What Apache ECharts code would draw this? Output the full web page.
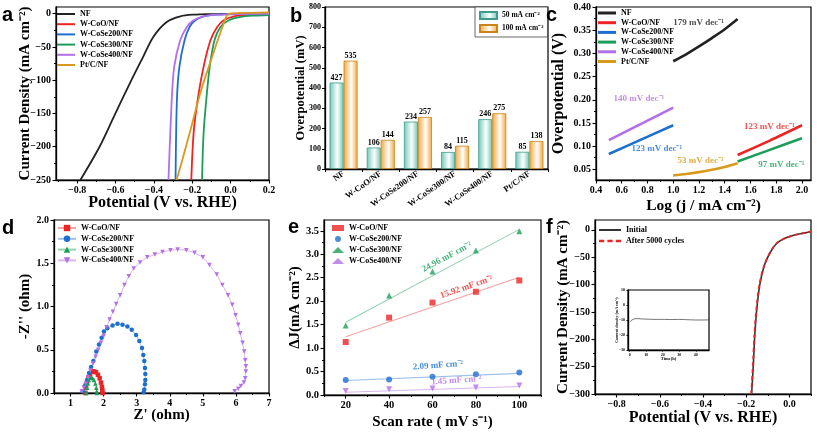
<!DOCTYPE html>
<html><head><meta charset="utf-8">
<script src="https://cdn.jsdelivr.net/npm/echarts@6/dist/echarts.min.js"></script>
<style>html,body{margin:0;padding:0;background:#fff}#c{width:817px;height:434px}</style>
</head><body><div id="c"></div>
<script>
const SERIF='"Liberation Serif","Times New Roman",serif';
// ---------- Panel a : LSV ----------
const aXTicks=[-0.8,-0.6,-0.4,-0.2,0,0.2];
const aXMinor=[-0.9,-0.7,-0.5,-0.3,-0.1,0.1];
const aYTicks=[-250,-200,-150,-100,-50,0];
const aYMinor=[-225,-175,-125,-75,-25];
const aNF=[[-0.783,-250],[-0.683,-200],[-0.604,-152],[-0.517,-100],[-0.456,-65],[-0.403,-35],[-0.333,-12.6],[-0.262,-4],[-0.193,-1.5],[-0.1,-0.6],[0.0,-0.3],[0.2,0]];
const aCoO=[[-0.205,-250],[-0.193,-180],[-0.172,-130],[-0.141,-80],[-0.105,-40],[-0.07,-20],[-0.036,-10],[0.017,-4],[0.1,-2],[0.2,-1.2]];
const aSe200=[[-0.287,-250],[-0.280,-130],[-0.267,-80],[-0.240,-40],[-0.214,-20],[-0.184,-10],[-0.141,-4],[-0.07,-1.5],[0.05,-0.6],[0.2,-0.3]];
const aSe300=[[-0.149,-250],[-0.141,-180],[-0.127,-130],[-0.109,-80],[-0.084,-40],[-0.053,-20],[-0.009,-10],[0.052,-5],[0.12,-3],[0.2,-2]];
const aSe400=[[-0.324,-250],[-0.307,-130],[-0.294,-80],[-0.263,-40],[-0.228,-20],[-0.193,-10],[-0.141,-4],[-0.07,-1.5],[0.05,-0.6],[0.2,-0.3]];
const aPtC=[[-0.282,-250],[-0.25,-218],[-0.2,-165],[-0.157,-118],[-0.1,-68],[-0.06,-34],[-0.035,-14],[-0.02,-3],[0.0,0.3],[0.1,1.2],[0.2,2]];
// ---------- Panel b : overpotential bars ----------
const bCats=['NF','W-CoO/NF','W-CoSe200/NF','W-CoSe300/NF','W-CoSe400/NF','Pt/C/NF'];
const b50=[427,106,234,84,246,85];
const b100=[535,144,257,115,275,138];
// ---------- Panel c : Tafel ----------
const cXTicks=[0.4,0.6,0.8,1.0,1.2,1.4,1.6,1.8,2.0];
const cXMinor=[0.5,0.7,0.9,1.1,1.3,1.5,1.7,1.9];
const cYTicks=[0.05,0.10,0.15,0.20,0.25,0.30,0.35,0.40];
const cYMinor=[0.075,0.125,0.175,0.225,0.275,0.325,0.375];
const cNF=[[1.0,0.283],[1.1,0.298],[1.2,0.315],[1.3,0.333],[1.4,0.352],[1.5,0.374]];
const cCoO=[[1.5,0.081],[1.75,0.112],[2.0,0.145]];
const cSe200=[[0.5,0.083],[0.75,0.114],[1.0,0.145]];
const cSe300=[[1.5,0.067],[1.75,0.092],[2.0,0.117]];
const cSe400=[[0.5,0.113],[0.75,0.148],[1.0,0.183]];
const cPtC=[[1.0,0.037],[1.1,0.040],[1.2,0.044],[1.3,0.049],[1.4,0.055],[1.5,0.063]];
const cSlopes=['179 mV dec⁻¹','123 mV dec⁻¹','123 mV dec⁻¹','97 mV dec⁻¹','140 mV dec⁻¹','53 mV dec⁻¹'];
// ---------- Panel d : Nyquist ----------
const dXTicks=[1,2,3,4,5,6,7];
const dXMinor=[0.5,1.5,2.5,3.5,4.5,5.5,6.5];
const dYTicks=[0,0.5,1.0,1.5,2.0];
const dYMinor=[0.25,0.75,1.25,1.75];
const dCoO=[[1.45,0.0],[1.47,0.06],[1.50,0.12],[1.54,0.18],[1.59,0.22],[1.65,0.245],[1.71,0.25],[1.77,0.24],[1.83,0.21],[1.88,0.17],[1.92,0.12],[1.95,0.07],[1.96,0.03],[1.97,0.0]];
const dSe200=[[1.37,0.02],[1.44,0.09],[1.50,0.15],[1.56,0.23],[1.62,0.30],[1.69,0.37],[1.78,0.48],[1.86,0.56],[1.94,0.64],[2.01,0.71],[2.11,0.75],[2.27,0.78],[2.42,0.80],[2.57,0.79],[2.72,0.77],[2.85,0.73],[2.98,0.67],[3.08,0.60],[3.16,0.52],[3.20,0.44],[3.23,0.37],[3.25,0.29],[3.26,0.22],[3.26,0.15],[3.25,0.10],[3.23,0.04],[3.21,0.01]];
const dSe300=[[1.48,0.0],[1.50,0.06],[1.52,0.11],[1.55,0.15],[1.59,0.175],[1.63,0.18],[1.67,0.17],[1.71,0.15],[1.75,0.11],[1.78,0.06],[1.79,0.02],[1.80,0.0]];
const dSe400=[[1.34,0.02],[1.40,0.06],[1.46,0.11],[1.53,0.18],[1.60,0.26],[1.68,0.34],[1.76,0.42],[1.84,0.50],[1.92,0.58],[2.00,0.66],[2.09,0.76],[2.18,0.85],[2.28,0.94],[2.38,1.03],[2.50,1.13],[2.63,1.25],[2.76,1.35],[2.91,1.44],[3.10,1.51],[3.32,1.57],[3.55,1.60],[3.78,1.63],[4.02,1.65],[4.24,1.66],[4.50,1.65],[4.75,1.62],[5.00,1.57],[5.20,1.48],[5.42,1.37],[5.59,1.25],[5.76,1.13],[5.89,1.02],[5.99,0.90],[6.07,0.79],[6.13,0.69],[6.20,0.58],[6.25,0.48],[6.28,0.38],[6.30,0.31],[6.30,0.25],[6.28,0.17],[6.24,0.12],[6.15,0.08],[6.07,0.05],[5.96,0.02]];
// ---------- Panel e : double-layer capacitance ----------
const eXTicks=[20,40,60,80,100];
const eXMinor=[10,30,50,70,90,110];
const eYTicks=[0,0.5,1.0,1.5,2.0,2.5,3.0,3.5];
const eYMinor=[0.25,0.75,1.25,1.75,2.25,2.75,3.25];
const eScan=[20,40,60,80,100];
const eCoO=[1.13,1.65,1.97,2.20,2.44];
const eSe200=[0.32,0.33,0.39,0.44,0.48];
const eSe300=[1.48,2.12,2.63,3.08,3.49];
const eSe400=[0.085,0.12,0.14,0.16,0.20];
const eFitX=[20,100];
const eFitCoO=[1.24,2.51];
const eFitSe200=[0.31,0.46];
const eFitSe300=[1.55,3.53];
const eFitSe400=[0.06,0.18];
const eCdl=['15.92 mF cm⁻²','2.09 mF cm⁻²','24.96 mF cm⁻²','1.45 mF cm⁻²'];
// ---------- Panel f : stability ----------
const fXTicks=[-0.8,-0.6,-0.4,-0.2,0.0];
const fXMinor=[-0.9,-0.7,-0.5,-0.3,-0.1,0.1];
const fYTicks=[-300,-250,-200,-150,-100,-50,0];
const fYMinor=[-275,-225,-175,-125,-75,-25];
const fInit=[[-0.175,-300],[-0.167,-247],[-0.161,-198],[-0.152,-149],[-0.137,-100],[-0.115,-64],[-0.087,-40],[-0.057,-24],[-0.018,-15],[0.02,-10],[0.066,-6],[0.1,-3]];
const fAfter=[[-0.177,-300],[-0.169,-247],[-0.163,-198],[-0.154,-149],[-0.139,-100],[-0.116,-64],[-0.088,-40],[-0.058,-24],[-0.019,-15],[0.02,-10],[0.066,-6],[0.1,-3]];
const gXTicks=[0,10,20,30,40];
const gYTicks=[-30,-20,-10,0,10];
const gTime=[[0,-11.5],[0.5,-11],[1,-10.3],[2,-9.6],[3,-9.2],[5,-9.1],[8,-9.3],[12,-9.5],[16,-9.6],[20,-9.6],[25,-9.7],[30,-9.6],[35,-9.8],[40,-10],[44,-10],[48,-9.9]];

const C={k:'#222222',r:'#ec2424',b:'#1d6fcf',g:'#1c9e58',p:'#b36fe6',o:'#d89a1c'};
const L={r:'#f3a3a0',b:'#9cc0ea',g:'#93d4b2',p:'#d9b5f2'};
const neg=s=>s.replace('-','−');
const z=v=>Math.abs(v)<1e-9?0:v;
const f0=v=>neg(String(Math.round(z(v))));
const f1=v=>neg(z(v).toFixed(1));
const f2=v=>neg(z(v).toFixed(2));
const base={fontFamily:SERIF,fontWeight:'bold',color:'#000'};

const grids=[
 {left:56,top:7,width:213,height:173},
 {left:325,top:7,width:223,height:162},
 {left:596,top:7,width:215,height:173},
 {left:54,top:220,width:215,height:173},
 {left:324,top:220,width:217,height:175},
 {left:595,top:220,width:216,height:174},
 {left:628,top:290,width:81,height:60,backgroundColor:'#fff'}
].map(g=>Object.assign({show:true,borderColor:'#000',borderWidth:1.2,containLabel:false},g));

const xAxes=[],yAxes=[];
function axis(list,grid,pos,min,max,majors,minors,fmt,lsize,name,gap,nsize,tl){
  const idx=list.length; tl=tl||3.5;
  list.push({type:'value',gridIndex:grid,position:pos,min,max,nameMoveOverlap:false,
    axisLine:{show:true,onZero:false,lineStyle:{color:'#000',width:1.3}},
    axisTick:{show:true,inside:false,length:tl,customValues:majors,lineStyle:{color:'#000',width:1.1}},
    axisLabel:Object.assign({customValues:majors,formatter:fmt,fontSize:lsize,margin:tl+1.5},base),
    splitLine:{show:false},
    name,nameLocation:'middle',nameGap:gap,nameTextStyle:Object.assign({fontSize:nsize},base)});
  if(minors) list.push({type:'value',gridIndex:grid,position:pos,min,max,
    axisLine:{show:false,onZero:false},axisLabel:{show:false},splitLine:{show:false},
    axisTick:{show:true,inside:false,length:tl*0.55,customValues:minors,lineStyle:{color:'#000',width:1}}});
  return idx;
}
// a
const xa=axis(xAxes,0,'bottom',-0.91,0.2,aXTicks,aXMinor,f1,10,'Potential (V vs. RHE)',15,16);
const ya=axis(yAxes,0,'left',-250,10,aYTicks,aYMinor,f0,10,'Current Density (mA cm⁻²)',23,15);
// b
const xb=xAxes.length;
xAxes.push({type:'category',gridIndex:1,data:bCats,
  axisLine:{lineStyle:{color:'#000',width:1.3}},axisTick:{show:true,length:3,lineStyle:{color:'#000'}},
  axisLabel:Object.assign({rotate:35,interval:0,fontSize:8.5,margin:4},base)});
const yb=yAxes.length;
yAxes.push({type:'value',gridIndex:1,min:0,max:800,interval:100,nameMoveOverlap:false,
  axisLine:{show:true,lineStyle:{color:'#000',width:1.3}},axisTick:{show:true,length:3,lineStyle:{color:'#000'}},
  axisLabel:Object.assign({fontSize:8,margin:4},base),splitLine:{show:false},
  name:'Overpotential (mV)',nameLocation:'middle',nameGap:18,nameTextStyle:Object.assign({fontSize:12.5},base)});
// c
const xc=axis(xAxes,2,'bottom',0.4,2.07,cXTicks,cXMinor,f1,10,'Log (j / mA cm⁻²)',18,15.5);
const yc=axis(yAxes,2,'left',0.027,0.40,cYTicks,cYMinor,f2,10,'Overpotential (V)',29,16);
// d
const xd=axis(xAxes,3,'bottom',0.5,7,dXTicks,dXMinor,f0,10,"Z' (ohm)",15,15);
const yd=axis(yAxes,3,'left',0,2,dYTicks,dYMinor,f1,10,"-Z'' (ohm)",21,15);
// e
const xe=axis(xAxes,4,'bottom',10,110,eXTicks,eXMinor,f0,10.5,'Scan rate ( mV s⁻¹)',20,15);
const ye=axis(yAxes,4,'left',0,3.73,eYTicks,eYMinor,f1,10.5,'ΔJ(mA cm⁻²)',21,15);
// f
const xf=axis(xAxes,5,'bottom',-0.9,0.1,fXTicks,fXMinor,f1,10,'Potential (V vs. RHE)',16,16);
const yf=axis(yAxes,5,'left',-300,18,fYTicks,fYMinor,f0,10,'Current Density (mA cm⁻²)',24,15);
// inset
const xg=axis(xAxes,6,'bottom',-1,48,gXTicks,null,f0,4,'Time(h)',6,4.5,1.5);
const yg=axis(yAxes,6,'left',-30,10,gYTicks,null,f0,4,'Current density (mA cm⁻²)',9,4,1.5);

const series=[];
function line(name,data,xi,yi,color,w,extra){
  series.push(Object.assign({type:'line',name,data,xAxisIndex:xi,yAxisIndex:yi,showSymbol:false,symbol:'none',
    smooth:0.3,lineStyle:{color,width:w},itemStyle:{color},z:3,silent:true,animation:false},extra||{}));
}
function textSeries(xi,yi,items){
  series.push({type:'scatter',name:'__t'+xi,xAxisIndex:xi,yAxisIndex:yi,symbolSize:0,silent:true,animation:false,z:5,
    data:items.map(it=>({value:it.at,label:{show:true,position:'inside',formatter:it.text,color:it.color,rotate:it.rot||0,
      fontFamily:SERIF,fontWeight:'bold',fontSize:it.size||9}}))});
}
// a
line('NF|a',aNF,xa,ya,C.k,1.8);
line('W-CoO/NF|a',aCoO,xa,ya,C.r,1.8);
line('W-CoSe200/NF|a',aSe200,xa,ya,C.b,1.8);
line('W-CoSe300/NF|a',aSe300,xa,ya,C.g,1.8);
line('W-CoSe400/NF|a',aSe400,xa,ya,C.p,1.8);
line('Pt/C/NF|a',aPtC,xa,ya,C.o,1.8);
// b
const grad=(edge,mid)=>new echarts.graphic.LinearGradient(0,0,1,0,[{offset:0,color:edge},{offset:0.55,color:mid},{offset:1,color:edge}]);
const barLabel=Object.assign({show:true,position:'top',distance:1,fontSize:8},base);
series.push({type:'bar',name:'50 mA cm⁻²',data:b50,xAxisIndex:xb,yAxisIndex:yb,barWidth:14,barGap:'0%',animation:false,
  itemStyle:{color:grad('#6cc7b6','#ffffff'),borderColor:'#3f9c8c',borderWidth:0.8},label:barLabel});
series.push({type:'bar',name:'100 mA cm⁻²',data:b100,xAxisIndex:xb,yAxisIndex:yb,barWidth:14,barGap:'0%',animation:false,
  itemStyle:{color:grad('#f2a63a','#ffffff'),borderColor:'#c98316',borderWidth:0.8},label:barLabel});
// c
line('NF|c',cNF,xc,yc,C.k,2.6);
line('W-CoO/NF|c',cCoO,xc,yc,C.r,2.6);
line('W-CoSe200/NF|c',cSe200,xc,yc,C.b,2.6);
line('W-CoSe300/NF|c',cSe300,xc,yc,C.g,2.6);
line('W-CoSe400/NF|c',cSe400,xc,yc,C.p,2.6);
line('Pt/C/NF|c',cPtC,xc,yc,C.o,2.6);
textSeries(xc,yc,[
 {at:[1.197,0.366],text:cSlopes[0],color:C.k},
 {at:[1.747,0.143],text:cSlopes[1],color:C.r},
 {at:[0.872,0.094],text:cSlopes[2],color:C.b},
 {at:[1.84,0.061],text:cSlopes[3],color:C.g},
 {at:[0.733,0.202],text:cSlopes[4],color:C.p},
 {at:[1.213,0.068],text:cSlopes[5],color:C.o}]);
// d
function sym(name,data,xi,yi,color,lc,symbol,rot){
  series.push({type:'line',name,data,xAxisIndex:xi,yAxisIndex:yi,symbol,symbolSize:4.5,symbolRotate:rot||0,showSymbol:true,
    lineStyle:{color:lc,width:1},itemStyle:{color},silent:true,animation:false,z:3});
}
sym('W-CoO/NF|d',dCoO,xd,yd,C.r,L.r,'rect');
sym('W-CoSe200/NF|d',dSe200,xd,yd,C.b,L.b,'circle');
sym('W-CoSe300/NF|d',dSe300,xd,yd,C.g,L.g,'triangle');
sym('W-CoSe400/NF|d',dSe400,xd,yd,C.p,L.p,'triangle',180);
// e
function sc(name,vals,xi,yi,color,symbol,rot){
  series.push({type:'scatter',name,data:eScan.map((x,i)=>[x,vals[i]]),xAxisIndex:xi,yAxisIndex:yi,symbol,symbolSize:6,symbolRotate:rot||0,
    itemStyle:{color},silent:true,animation:false,z:4});
}
line('fitCoO',eFitX.map((x,i)=>[x,eFitCoO[i]]),xe,ye,L.r,1.1,{smooth:false});
line('fitSe200',eFitX.map((x,i)=>[x,eFitSe200[i]]),xe,ye,L.b,1.1,{smooth:false});
line('fitSe300',eFitX.map((x,i)=>[x,eFitSe300[i]]),xe,ye,L.g,1.1,{smooth:false});
line('fitSe400',eFitX.map((x,i)=>[x,eFitSe400[i]]),xe,ye,L.p,1.1,{smooth:false});
sc('W-CoO/NF|e',eCoO,xe,ye,C.r,'rect');
sc('W-CoSe200/NF|e',eSe200,xe,ye,C.b,'circle');
sc('W-CoSe300/NF|e',eSe300,xe,ye,C.g,'triangle');
sc('W-CoSe400/NF|e',eSe400,xe,ye,C.p,'triangle',180);
textSeries(xe,ye,[
 {at:[75.7,2.30],text:eCdl[0],color:C.r,rot:19},
 {at:[62.5,0.63],text:eCdl[1],color:C.b,rot:4},
 {at:[66.6,2.94],text:eCdl[2],color:C.g,rot:28},
 {at:[71,0.31],text:eCdl[3],color:C.p,rot:4}]);
// f
line('Initial|f',fInit,xf,yf,'#333333',1.6);
line('After 5000 cycles|f',fAfter,xf,yf,C.r,1.8,{lineStyle:{color:C.r,width:1.8,type:[4,3]}});
line('inset',gTime,xg,yg,'#333333',0.7,{smooth:0.2});

const lt=Object.assign({fontSize:8},base);
const fmtName=n=>n.split('|')[0];
const lineIcon='path://M0,0h18v2h-18z';
const thickIcon='path://M0,0h18v3h-18z';
const solidIcon='path://M0,0h22v2h-22z';
const dashIcon='path://M0,0h5v2.2h-5z M8,0h5v2.2h-5z M16,0h5v2.2h-5z';
const withIcon=(names,icon)=>names.map(n=>({name:n,icon}));
const legends=[
 {data:withIcon(['NF|a','W-CoO/NF|a','W-CoSe200/NF|a','W-CoSe300/NF|a','W-CoSe400/NF|a','Pt/C/NF|a'],lineIcon),left:57,top:10,itemWidth:18,itemHeight:8,itemGap:2.2},
 {data:withIcon(['NF|c','W-CoO/NF|c','W-CoSe200/NF|c','W-CoSe300/NF|c','W-CoSe400/NF|c','Pt/C/NF|c'],thickIcon),left:598,top:9,itemWidth:18,itemHeight:8,itemGap:1.7},
 {data:['W-CoO/NF|d','W-CoSe200/NF|d','W-CoSe300/NF|d','W-CoSe400/NF|d'],left:57,top:224,itemWidth:18,itemHeight:8,itemGap:2.8},
 {data:['W-CoO/NF|e','W-CoSe200/NF|e','W-CoSe300/NF|e','W-CoSe400/NF|e'],left:332,top:224,itemWidth:12,itemHeight:6,itemGap:3},
 {data:[{name:'Initial|f',icon:solidIcon},{name:'After 5000 cycles|f',icon:dashIcon}],left:599,top:226,itemWidth:22,itemHeight:8,itemGap:3}
].map(l=>Object.assign({orient:'vertical',padding:0,formatter:fmtName,textStyle:lt,selectedMode:false,symbolKeepAspect:true},l));
legends.push({data:['50 mA cm⁻²','100 mA cm⁻²'],left:475,top:7,orient:'vertical',icon:'rect',itemWidth:17,itemHeight:7,itemGap:4,
  padding:[4,4,4,4],borderColor:'#444',borderWidth:0.8,backgroundColor:'#fff',selectedMode:false,textStyle:Object.assign({fontSize:7.5},base)});

const letters=[['a',2,15],['b',290,16],['c',546,15],['d',2,228],['e',288,227],['f',546,227]];
const graphic=letters.map(([t,x,y])=>({type:'text',x,y,style:{text:t,font:'bold 20px "Liberation Sans", Arial, sans-serif',fill:'#000',verticalAlign:'middle'},z:10}));

const chart=echarts.init(document.getElementById('c'),null,{renderer:'canvas'});
chart.setOption({animation:false,backgroundColor:'#fff',grid:grids,xAxis:xAxes,yAxis:yAxes,series,legend:legends,graphic});
</script></body></html>
